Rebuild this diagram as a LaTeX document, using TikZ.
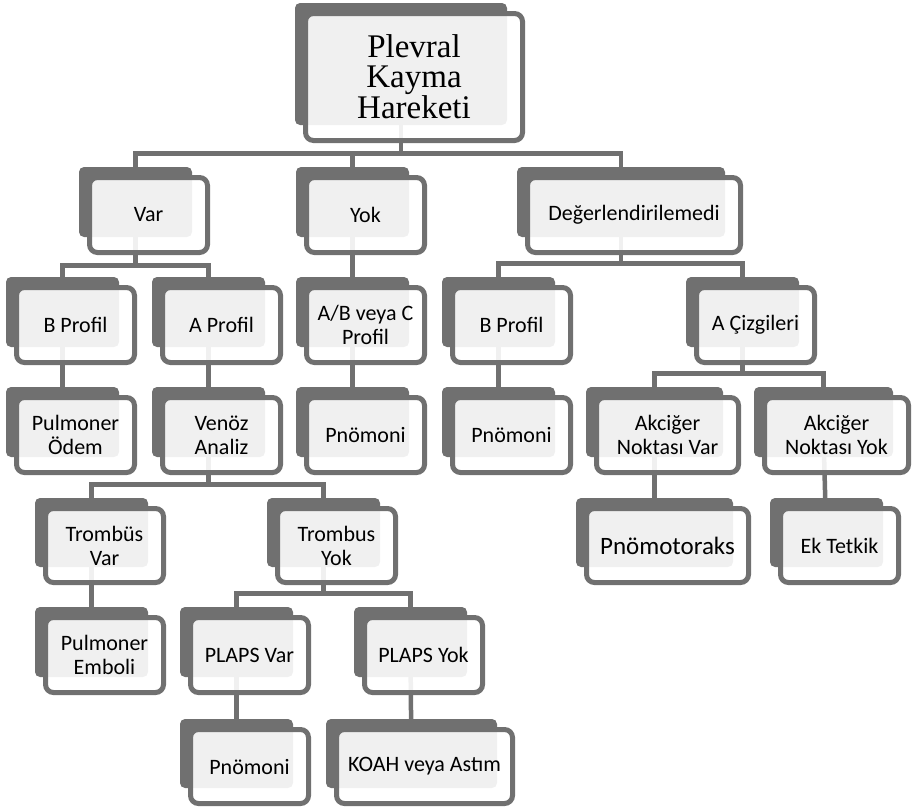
\documentclass[tikz,border=0pt]{standalone}
\usepackage{fontspec}
\setmainfont{Carlito}
\newfontfamily\rootfont{Liberation Serif}
\usetikzlibrary{backgrounds}
\definecolor{boxgray}{RGB}{112,112,112}

\begin{document}
\begin{tikzpicture}[x=1pt,y=-1pt]

            % Define styles
            \tikzstyle{item} = [rectangle, rounded corners=8pt, draw=boxgray, line width=5pt, fill=white, fill opacity=0.9, text opacity=1, outer sep=0pt, align=center, text centered, font=\fontsize{22}{24}\selectfont, minimum width=118pt, minimum height=75pt]
            \tikzstyle{backbox} = [fill=boxgray, rounded corners=5pt]
            \tikzstyle{link} = [draw=boxgray, line width=4.5pt]

            \useasboundingbox (0,0) rectangle (913,806);

            % Top
            \node[item, minimum width=217pt, minimum height=127pt, font=\rootfont\fontsize{33}{30}\selectfont] (root) at (414,77) {Plevral\\Kayma\\Hareketi};

            % First level
            \node[item] (var) at (148.5,215) {Var};
            \node[item] (yok) at (365.5,215) {Yok};
            \node[item, minimum width=213pt] (deger) at (634,215) {Değerlendirilemedi};

            % Second level
            \node[item] (bprofil) at (75.5,325) {B Profil};
            \node[item] (aprofil) at (221.5,325) {A Profil};
            \node[item] (abcprofil) at (365.5,325) {A/B veya C\\Profil};
            \node[item] (bprofiltwo) at (511.5,325) {B Profil};
            \node[item] (acizgi) at (755.5,325) {A Çizgileri};

            % Third level
            \node[item] (odem) at (75.5,435) {Pulmoner\\Ödem};
            \node[item] (venoz) at (221.5,435) {Venöz\\Analiz};
            \node[item] (pnomoni) at (365.5,435) {Pnömoni};
            \node[item] (pnomonitwo) at (511.5,435) {Pnömoni};
            \node[item, minimum width=142pt] (noktavar) at (667.5,435) {Akciğer\\Noktası Var};
            \node[item, minimum width=144pt] (noktayok) at (836.5,435) {Akciğer\\Noktası Yok};

            % Fourth level
            \node[item, minimum height=74pt] (trombvar) at (104.5,545.5) {Trombüs\\Var};
            \node[item, minimum height=74pt] (trombyok) at (336.5,545.5) {Trombus\\Yok};
            \node[item, minimum width=162pt, minimum height=74pt, font=\fontsize{25}{27}\selectfont] (pnomotoraks) at (667.5,545.5) {Pnömotoraks};
            \node[item, minimum height=74pt] (ektetkik) at (839.5,545.5) {Ek Tetkik};

            % Fifth level
            \node[item] (emboli) at (104.5,655) {Pulmoner\\Emboli};
            \node[item] (plapsvar) at (249.5,655) {PLAPS Var};
            \node[item] (plapsyok) at (423.5,655) {PLAPS Yok};

            % Sixth level
            \node[item, minimum height=74pt] (pnomonithree) at (249.5,766.5) {Pnömoni};
            \node[item, minimum width=176pt, minimum height=74pt] (koah) at (424.5,766.5) {KOAH veya Astım};

            \begin{scope}[on background layer]
                % Connectors
                \draw[link] ([xshift=-13pt]root.center) |- ([xshift=-13pt,yshift=24pt]var.north) -- ([xshift=-13pt]var.center);
                \draw[link] ([xshift=-13pt]root.center) |- ([xshift=-13pt,yshift=24pt]yok.north) -- ([xshift=-13pt]yok.center);
                \draw[link] ([xshift=-13pt]root.center) |- ([xshift=-13pt,yshift=24pt]deger.north) -- ([xshift=-13pt]deger.center);
                \draw[link] ([xshift=-13pt]var.center) |- ([xshift=-13pt,yshift=22pt]bprofil.north) -- ([xshift=-13pt]bprofil.center);
                \draw[link] ([xshift=-13pt]var.center) |- ([xshift=-13pt,yshift=22pt]aprofil.north) -- ([xshift=-13pt]aprofil.center);
                \draw[link] ([xshift=-13pt]yok.center) -- ([xshift=-13pt]abcprofil.center);
                \draw[link] ([xshift=-13pt]deger.center) |- ([xshift=-13pt,yshift=24pt]bprofiltwo.north) -- ([xshift=-13pt]bprofiltwo.center);
                \draw[link] ([xshift=-13pt]deger.center) |- ([xshift=-13pt,yshift=24pt]acizgi.north) -- ([xshift=-13pt]acizgi.center);
                \draw[link] ([xshift=-13pt]bprofil.center) -- ([xshift=-13pt]odem.center);
                \draw[link] ([xshift=-13pt]aprofil.center) -- ([xshift=-13pt]venoz.center);
                \draw[link] ([xshift=-13pt]abcprofil.center) -- ([xshift=-13pt]pnomoni.center);
                \draw[link] ([xshift=-13pt]bprofiltwo.center) -- ([xshift=-13pt]pnomonitwo.center);
                \draw[link] ([xshift=-13pt]acizgi.center) |- ([xshift=-13pt,yshift=24pt]noktavar.north) -- ([xshift=-13pt]noktavar.center);
                \draw[link] ([xshift=-13pt]acizgi.center) |- ([xshift=-13pt,yshift=24pt]noktayok.north) -- ([xshift=-13pt]noktayok.center);
                \draw[link] ([xshift=-13pt]venoz.center) |- ([xshift=-13pt,yshift=24pt]trombvar.north) -- ([xshift=-13pt]trombvar.center);
                \draw[link] ([xshift=-13pt]venoz.center) |- ([xshift=-13pt,yshift=24pt]trombyok.north) -- ([xshift=-13pt]trombyok.center);
                \draw[link] ([xshift=-13pt]noktavar.center) -- ([xshift=-13pt]pnomotoraks.center);
                \draw[link] ([xshift=-13pt]noktayok.center) -- ([xshift=-13pt]ektetkik.center);
                \draw[link] ([xshift=-13pt]trombvar.center) -- ([xshift=-13pt]emboli.center);
                \draw[link] ([xshift=-13pt]trombyok.center) |- ([xshift=-13pt,yshift=24pt]plapsvar.north) -- ([xshift=-13pt]plapsvar.center);
                \draw[link] ([xshift=-13pt]trombyok.center) |- ([xshift=-13pt,yshift=24pt]plapsyok.north) -- ([xshift=-13pt]plapsyok.center);
                \draw[link] ([xshift=-13pt]plapsvar.center) -- ([xshift=-13pt]pnomonithree.center);
                \draw[link] ([xshift=-13pt]plapsyok.center) -- ([xshift=-13pt]koah.center);

                % Back boxes
                \foreach \n in {root,var,yok,deger,bprofil,aprofil,abcprofil,bprofiltwo,acizgi,odem,venoz,pnomoni,pnomonitwo,noktavar,noktayok,trombvar,trombyok,pnomotoraks,ektetkik,emboli,plapsvar,plapsyok,pnomonithree,koah}
                    \fill[backbox] ([shift={(-10.5,-10.5)}]\n.north west) rectangle ([shift={(-15.5,-15.5)}]\n.south east);
            \end{scope}

        \end{tikzpicture}
\end{document}
